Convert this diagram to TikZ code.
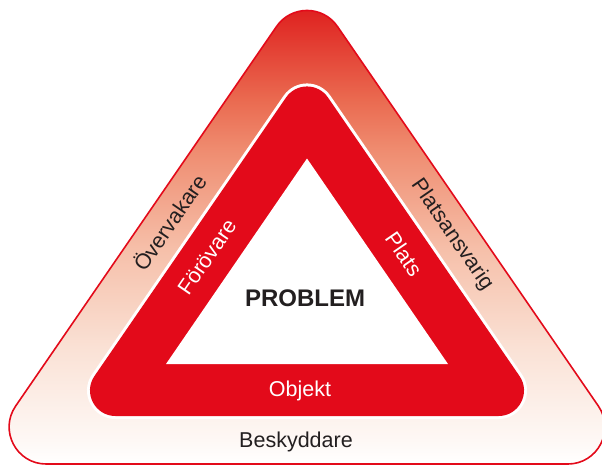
\documentclass[tikz,border=0pt]{standalone}
\usepackage{fontspec}
\setmainfont{Liberation Sans}
\usetikzlibrary{calc}
\definecolor{trired}{RGB}{227,10,26}
\definecolor{txt}{RGB}{35,31,32}
\definecolor{gA}{RGB}{254,248,245}
\definecolor{gB}{RGB}{250,226,214}
\definecolor{gC}{RGB}{246,192,170}
\definecolor{gD}{RGB}{239,140,112}
\definecolor{gE}{RGB}{234,106,80}
\definecolor{gF}{RGB}{224,42,37}
\definecolor{gG}{RGB}{222,30,30}
\pgfdeclareverticalshading{bandshade}{100bp}{color(0bp)=(white); color(25bp)=(white); color(27.6bp)=(gA); color(37.4bp)=(gB); color(48.3bp)=(gC); color(59.2bp)=(gD); color(64.7bp)=(gE); color(73.4bp)=(gF); color(75bp)=(gG); color(100bp)=(gG)}
% rounded triangle: apex, left, right, apex cut, apex ctrl, base cut, base ctrl
\newcommand\rtri[7]{($(#1)!#4!(#2)$) -- ($(#2)!#6!(#1)$) .. controls ($(#2)!#7!(#1)$) and ($(#2)!#7!(#3)$) .. ($(#2)!#6!(#3)$) -- ($(#3)!#6!(#2)$) .. controls ($(#3)!#7!(#2)$) and ($(#3)!#7!(#1)$) .. ($(#3)!#6!(#1)$) -- ($(#1)!#4!(#3)$) .. controls ($(#1)!#5!(#3)$) and ($(#1)!#5!(#2)$) .. ($(#1)!#4!(#2)$) -- cycle}
\begin{document}
\begin{tikzpicture}[x=1pt,y=-1pt,
  lbl/.style={font=\fontsize{21.5pt}{25pt}\selectfont, inner sep=0pt},
  boldlbl/.style={font=\fontsize{24pt}{28pt}\selectfont\bfseries, inner sep=0pt}]
\useasboundingbox (0,0) rectangle (602,466);
\coordinate (oA) at (307,-17.8);
\coordinate (oL) at (-24.2,464);
\coordinate (oR) at (638.2,464);
\coordinate (rA) at (307,67);
\coordinate (rL) at (67,416);
\coordinate (rR) at (547,416);
\coordinate (hA) at (307,158.5);
\coordinate (hL) at (166,364);
\coordinate (hR) at (448,364);
\shadedraw[shading=bandshade, draw=trired, line width=1.6pt] \rtri{oA}{oL}{oR}{53.8pt}{27.8pt}{70.3pt}{40.6pt};
\draw[white, line width=6pt] \rtri{rA}{rL}{rR}{37.1pt}{19.1pt}{48.5pt}{28pt};
\fill[trired] \rtri{rA}{rL}{rR}{37.1pt}{19.1pt}{48.5pt}{28pt};
\fill[white] (hA) -- (hL) -- (hR) -- cycle;
\node[lbl, text=txt, rotate=55.5] (ov) at (169,222) {Övervakare};
\node[lbl, text=white, rotate=55.5] (fo) at (207,257) {Förövare};
\node[lbl, text=txt, rotate=-55.5] (pa) at (452,235) {Platsansvarig};
\node[lbl, text=white, rotate=-55.5] (pl) at (404,254) {Plats};
\node[boldlbl, text=txt, anchor=base] (pr) at (305,306) {PROBLEM};
\node[lbl, text=white, anchor=base] (ob) at (300,396.5) {Objekt};
\node[lbl, text=txt, anchor=base] (be) at (296,447.3) {Beskyddare};
\end{tikzpicture}
\end{document}
